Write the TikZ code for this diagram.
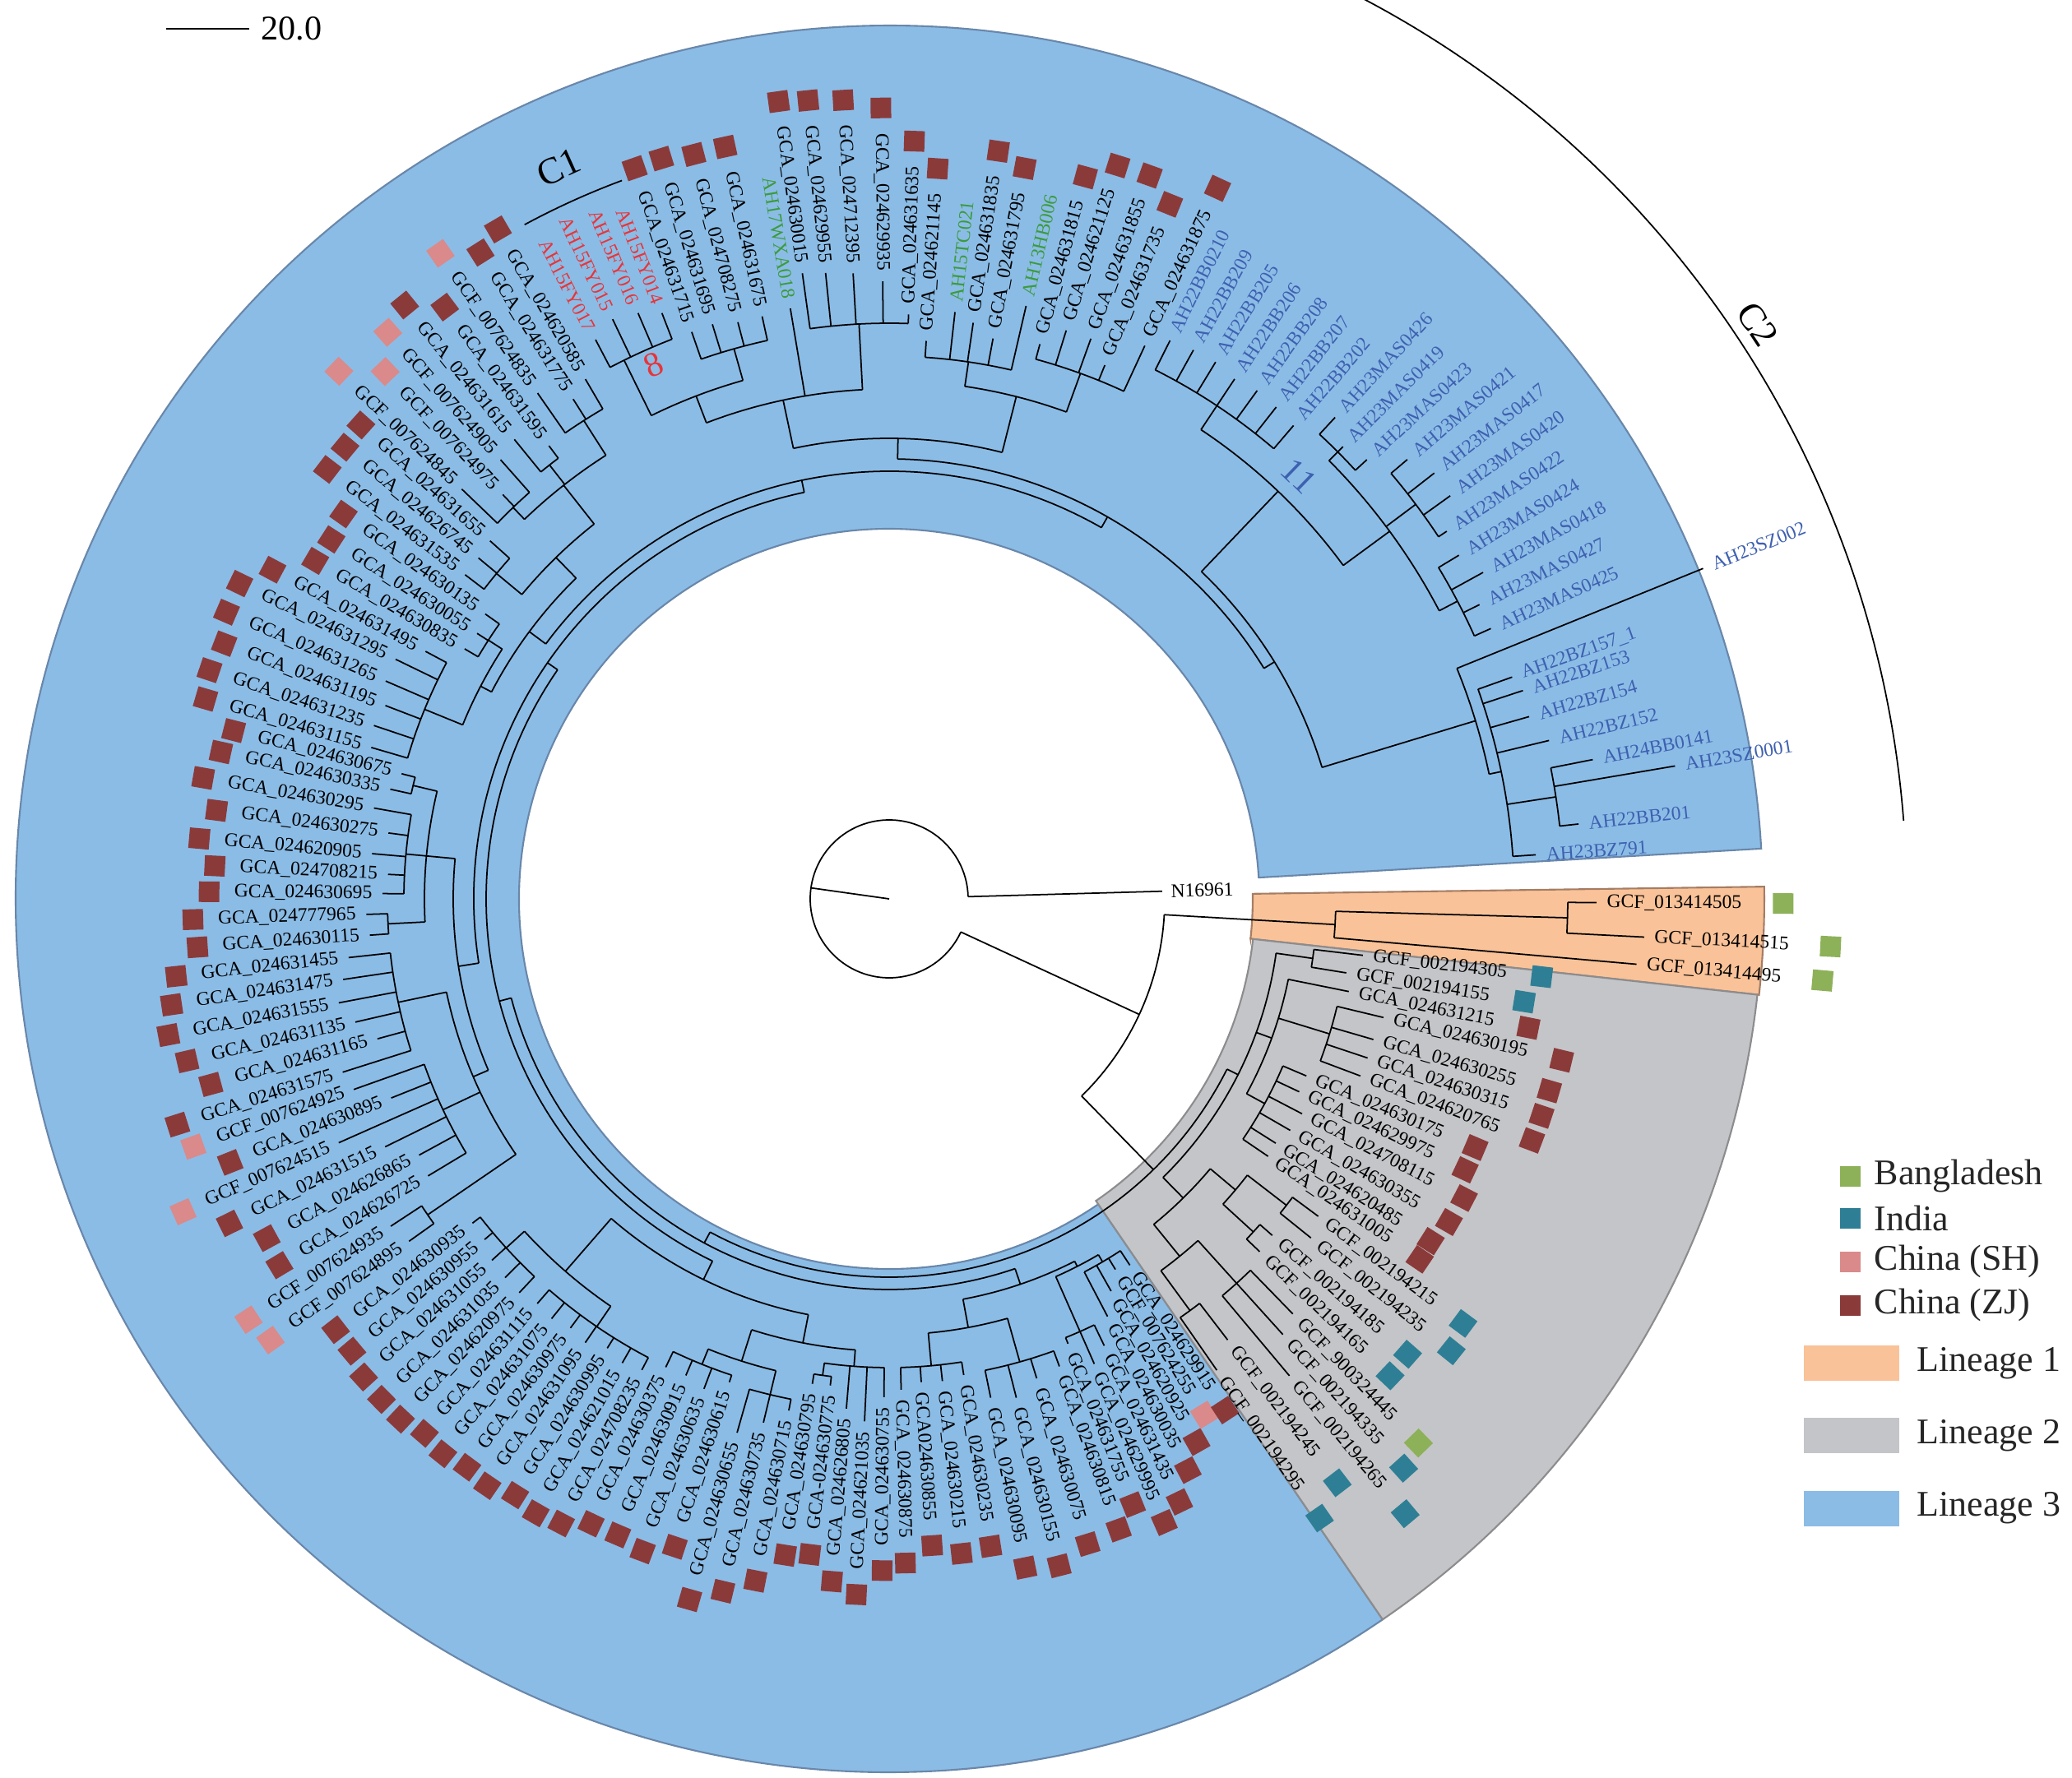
\documentclass[tikz,border=0pt]{standalone}
\usepackage{fontspec}
\setmainfont{Liberation Serif}
\usetikzlibrary{calc}

\definecolor{linone}{RGB}{249,194,152}
\definecolor{linoneb}{RGB}{165,125,100}
\definecolor{lintwo}{RGB}{196,197,200}
\definecolor{lintwob}{RGB}{140,140,142}
\definecolor{linthree}{RGB}{139,188,230}
\definecolor{linthreeb}{RGB}{105,135,170}
\definecolor{sqz}{RGB}{139,58,58}
\definecolor{sqs}{RGB}{218,138,138}
\definecolor{sqi}{RGB}{46,127,149}
\definecolor{sqb}{RGB}{141,177,88}
\definecolor{txk}{RGB}{0,0,0}
\definecolor{txr}{RGB}{232,52,56}
\definecolor{txg}{RGB}{60,155,60}
\definecolor{txb}{RGB}{62,96,176}

\begin{document}
\begin{tikzpicture}[
    br/.style={line width=0.5pt},
    lbl/.style={font=\fontsize{6.7}{8}\selectfont, inner sep=0pt},
    sq/.style={minimum size=0.25cm, inner sep=0pt},
    big/.style={font=\fontsize{13}{15}\selectfont, inner sep=0pt},
    legtxt/.style={font=\fontsize{12.5}{15}\selectfont, anchor=west, inner sep=0pt, text=black!85}
]
\useasboundingbox (-10.81,-10.68) rectangle (14.38,10.93);

% Lineage wedges
\draw[fill=linthree, draw=linthreeb, line width=0.6pt] (3.3:4.5) -- (3.3:10.62) arc[start angle=3.3, end angle=304.4, radius=10.62] -- (304.4:4.5) arc[start angle=304.4, end angle=3.3, radius=4.5] -- cycle;
\draw[fill=linone, draw=linoneb, line width=0.6pt] (-6.3:4.42) -- (-6.3:10.64) arc[start angle=-6.3, end angle=0.8, radius=10.64] -- (0.8:4.42) arc[start angle=0.8, end angle=-6.3, radius=4.42] -- cycle;
\draw[fill=lintwo, draw=lintwob, line width=0.6pt] (-55.6:4.45) -- (-55.6:10.62) arc[start angle=-55.6, end angle=-6.3, radius=10.62] -- (-6.3:4.45) arc[start angle=-6.3, end angle=-55.6, radius=4.45] -- cycle;

% Root
\coordinate (root) at (0,0);
\draw[br] (1.6:0.96) arc[start angle=1.6, end angle=335.2, radius=0.96];
\draw[br] (172:0.96) -- (root);
\draw[br] (1.6:0.96) -- (1.6:3.32);
\node[lbl, anchor=west, rotate=1.6] (nroot) at (1.6:3.42) {N16961};

% Internal nodes: arc from/to, radius, stem angle, parent radius
\foreach \ta/\tb/\tr/\tm/\tp in {
    6.2/11.2/8.2/8.7/7.6, 3.9/19.6/7.6/11.75/7.45, 11.75/22.1/7.45/16.9/5.5,
    24.2/31.1/7.8/27.65/7.55, 33.4/40.3/8.0/36.85/7.55, 42.6/47.2/7.7/44.9/7.55,
    27.65/44.9/7.55/36.3/6.85, 49.5/63.3/7.2/56.4/6.85, 36.3/56.4/6.85/46.35/5.5,
    16.9/46.35/5.5/31.6/5.35,
    65.2/74.8/6.8/70/6.3, 77/86.2/6.6/81.6/6.3, 70/81.6/6.3/75.8/5.6,
    88.1/97.9/7.0/93/6.2, 102.3/109.2/6.95/105.75/6.55, 111.2/117.7/7.3/116.2/6.55,
    105.75/116.2/6.55/111/6.2, 93/111/6.2/102/5.6, 75.8/102/5.6/88.9/5.35,
    31.6/88.9/5.35/60.25/5.2,
    120.3/124.8/6.9/122.55/6.4, 126.9/129.2/6.7/128.05/6.4, 131.5/136.2/6.6/133.85/6.4,
    122.55/133.85/6.4/128.2/5.8, 138.1/142.6/6.2/140.35/5.8, 128.2/140.35/5.8/134.3/5.45,
    144.8/149.5/5.8/147.15/5.6, 151.9/163.7/6.1/157.8/5.6, 147.15/157.8/5.6/152.5/5.45,
    134.3/152.5/5.45/143.4/5.2, 60.25/143.4/5.2/101.8/5.05,
    165.6/167.6/5.95/166.6/5.65, 170/179.4/5.9/174.7/5.65, 181.7/184/6.1/182.85/5.65,
    166.6/182.85/5.65/174.7/5.3, 186.2/197.6/6.1/191.9/5.5, 199.6/211/6.0/205.3/5.5,
    213.3/215.5/6.8/214.4/5.5, 191.9/214.4/5.5/203.15/5.3, 174.7/203.15/5.3/188.9/5.05,
    101.8/188.9/5.05/145.35/4.9,
    217.9/226.8/6.3/222.35/6.0, 229/242.3/6.3/235.65/6.0, 222.35/235.65/6.0/229/5.15,
    244.5/251.7/6.1/248.1/5.9, 254.1/258.9/6.2/256.5/5.9, 248.1/256.5/5.9/252.3/5.5,
    261/263.1/5.85/262.05/5.7, 262.05/269.4/5.7/265.7/5.5, 252.3/265.7/5.5/259/5.15,
    229/259/5.15/244/4.9, 145.35/244/4.9/194.7/4.75,
    271.4/278.9/5.7/275.15/5.3, 281.5/290/5.85/285.75/5.3, 275.15/285.75/5.3/280.45/4.95,
    291.9/295.7/5.75/293.8/5.02, 297.6/303.3/5.12/300.45/5.02, 293.8/300.45/5.02/297.1/4.95,
    280.45/297.1/4.95/288.8/4.75, 194.7/288.8/4.75/241.75/4.6,
    -6.8/-9.2/5.2/-8/4.75, -13.5/-20.6/5.6/-17.05/4.95, -23/-34.2/5.2/-28.6/4.95,
    -11.4/-28.6/4.95/-20/4.75, -36.5/-38.8/6.1/-37.65/5.5, -41.3/-43.6/6.0/-42.45/5.5,
    -37.65/-42.45/5.5/-40.05/5.1, -45.8/-50/6.3/-47.9/5.6, -52.5/-55.2/6.2/-53.85/5.6,
    -47.9/-53.85/5.6/-50.9/5.1, -40.05/-50.9/5.1/-45.5/4.75, -8/-45.5/4.75/-26.75/4.6,
    -26.75/-118.25/4.6/-45.7/3.35, -1.6/-5.0/5.43/-3.3/3.35, -0.3/-2.9/8.25/-1.6/5.43,
    -3.3/-45.7/3.35/-24.8/0.96}{
    \draw[br] (\ta:\tr) arc[start angle=\ta, end angle=\tb, radius=\tr];
    \draw[br] (\tm:\tp) -- (\tm:\tr);
}

% Leaves: angle, label radius, parent radius, name, text colour, country
\foreach \ang/\rlab/\rpar/\txt/\col/\sqt [count=\i] in {
    % lineage 3
    3.9/8.0/7.6/AH23BZ791/txb/n, 6.2/8.55/8.2/AH22BB201/txb/n, 9.6/9.81/8.2/AH23SZ0001/txb/n,
    11.2/8.84/8.2/AH24BB0141/txb/n, 13.5/8.37/7.6/AH22BZ152/txb/n, 15.9/8.21/7.6/AH22BZ154/txb/n,
    18.2/8.23/7.6/AH22BZ153/txb/n, 19.6/8.16/7.6/AH22BZ157\_1/txb/n, 22.1/10.8/7.45/AH23SZ002/txb/n,
    24.2/8.14/7.8/AH23MAS0425/txb/n, 26.5/8.14/7.8/AH23MAS0427/txb/n, 28.8/8.36/7.8/AH23MAS0418/txb/n,
    31.1/8.21/7.8/AH23MAS0424/txb/n, 33.4/8.24/8.0/AH23MAS0422/txb/n, 35.7/8.52/8.0/AH23MAS0420/txb/n,
    38.0/8.53/8.0/AH23MAS0417/txb/n, 40.3/8.38/8.0/AH23MAS0421/txb/n, 42.6/8.01/7.7/AH23MAS0423/txb/n,
    44.9/7.91/7.7/AH23MAS0419/txb/n, 47.2/8.1/7.7/AH23MAS0426/txb/n, 49.5/7.69/7.2/AH22BB202/txb/n,
    51.8/7.73/7.2/AH22BB207/txb/n, 54.1/7.75/7.2/AH22BB208/txb/n, 56.4/7.71/7.2/AH22BB206/txb/n,
    58.7/7.76/7.2/AH22BB205/txb/n, 61.0/7.75/7.2/AH22BB209/txb/n, 63.3/7.72/7.2/AH22BB0210/txb/n,
    65.2/7.53/6.8/GCA\_024631875/txk/z, 68.0/7.12/6.8/GCA\_024631735/txk/z, 70.2/7.36/6.8/GCA\_024631855/txk/z,
    72.7/7.36/6.8/GCA\_024621125/txk/z, 74.8/7.11/6.8/GCA\_024631815/txk/z, 77.0/7.52/6.6/AH13HB006/txg/n,
    79.5/7.05/6.6/GCA\_024631795/txk/z, 81.7/7.2/6.6/GCA\_024631835/txk/z, 83.6/7.3/6.6/AH15TC021/txg/n,
    86.2/6.92/6.6/GCA\_024621145/txk/z, 88.1/7.23/7.0/GCA\_024631635/txk/z, 90.6/7.63/7.0/GCA\_024629935/txk/z,
    93.3/7.74/7.0/GCA\_024712395/txk/z, 95.8/7.77/7.0/GCA\_024629955/txk/z, 97.9/7.8/7.0/GCA\_024630015/txk/z,
    99.5/7.4/6.2/AH17WXA018/txg/n, 102.3/7.37/6.95/GCA\_024631675/txk/z, 104.7/7.37/6.95/GCA\_024708275/txk/z,
    107.1/7.43/6.95/GCA\_024631695/txk/z, 109.2/7.42/6.95/GCA\_024631715/txk/z, 111.2/7.76/7.3/AH15FY014/txr/n,
    113.2/7.87/7.3/AH15FY016/txr/n, 115.5/7.93/7.3/AH15FY015/txr/n, 117.7/7.8/7.3/AH15FY017/txr/n,
    120.3/7.44/6.9/GCA\_024620585/txk/z, 122.3/7.31/6.9/GCA\_024631775/txk/z, 124.8/7.61/6.9/GCF\_007624835/txk/s,
    126.9/7.01/6.7/GCA\_024631595/txk/z, 129.2/7.33/6.7/GCA\_024631615/txk/z, 131.5/7.25/6.6/GCF\_007624905/txk/s,
    133.7/6.92/6.6/GCF\_007624975/txk/s, 136.2/7.32/6.6/GCF\_007624845/txk/s, 138.1/6.64/6.2/GCA\_024631655/txk/z,
    140.3/6.61/6.2/GCA\_024626745/txk/z, 142.6/6.61/6.2/GCA\_024631535/txk/z, 144.8/6.13/5.8/GCA\_024630135/txk/z,
    147.2/6.08/5.8/GCA\_024630055/txk/z, 149.5/6.11/5.8/GCA\_024630835/txk/z, 151.9/6.51/6.1/GCA\_024631495/txk/z,
    154.1/6.79/6.1/GCA\_024631295/txk/z, 156.6/6.79/6.1/GCA\_024631265/txk/z, 159.0/6.68/6.1/GCA\_024631195/txk/z,
    161.4/6.73/6.1/GCA\_024631235/txk/z, 163.7/6.68/6.1/GCA\_024631155/txk/z, 165.6/6.24/5.95/GCA\_024630675/txk/z,
    167.6/6.33/5.95/GCA\_024630335/txk/z, 170.0/6.48/5.9/GCA\_024630295/txk/z, 172.5/6.26/5.9/GCA\_024630275/txk/z,
    175.0/6.43/5.9/GCA\_024620905/txk/z, 177.2/6.22/5.9/GCA\_024708215/txk/z, 179.4/6.28/5.9/GCA\_024630695/txk/z,
    181.7/6.48/6.1/GCA\_024777965/txk/z, 184.0/6.45/6.1/GCA\_024630115/txk/z, 186.2/6.73/6.1/GCA\_024631455/txk/z,
    188.4/6.83/6.1/GCA\_024631475/txk/z, 190.7/6.93/6.1/GCA\_024631555/txk/z, 193.0/6.78/6.1/GCA\_024631135/txk/z,
    195.3/6.57/6.1/GCA\_024631165/txk/z, 197.6/7.09/6.1/GCA\_024631575/txk/z, 199.6/7.03/6.0/GCF\_007624925/txk/s,
    201.8/6.64/6.0/GCA\_024630895/txk/z, 203.9/7.44/6.0/GCF\_007624515/txk/s, 206.2/6.95/6.0/GCA\_024631515/txk/z,
    208.6/6.63/6.0/GCA\_024626865/txk/z, 211.0/6.66/6.0/GCA\_024626725/txk/z, 213.3/7.37/6.8/GCF\_007624935/txk/s,
    215.5/7.29/6.8/GCF\_007624895/txk/s, 217.9/6.54/6.3/GCA\_024630935/txk/z, 220.1/6.55/6.3/GCA\_024630955/txk/z,
    222.3/6.65/6.3/GCA\_024631055/txk/z, 224.6/6.68/6.3/GCA\_024631035/txk/z, 226.8/6.69/6.3/GCA\_024620975/txk/z,
    229.0/6.64/6.3/GCA\_024631115/txk/z, 231.2/6.67/6.3/GCA\_024631075/txk/z, 233.4/6.62/6.3/GCA\_024630975/txk/z,
    235.6/6.66/6.3/GCA\_024631095/txk/z, 237.9/6.57/6.3/GCA\_024630995/txk/z, 240.1/6.63/6.3/GCA\_024621015/txk/z,
    242.3/6.59/6.3/GCA\_024708235/txk/z, 244.5/6.43/6.1/GCA\_024630375/txk/z, 246.9/6.42/6.1/GCA\_024630915/txk/z,
    249.3/6.49/6.1/GCA\_024630635/txk/z, 251.7/6.31/6.1/GCA\_024630615/txk/z, 254.1/6.87/6.2/GCA\_024630655/txk/z,
    256.5/6.67/6.2/GCA\_024630735/txk/z, 258.9/6.46/6.2/GCA\_024630715/txk/z, 261.0/6.09/5.85/GCA\_024630795/txk/z,
    263.1/6.08/5.85/GCA-024630775/txk/z, 265.2/6.34/5.7/GCA\_024626805/txk/z, 267.3/6.48/5.7/GCA\_024621035/txk/z,
    269.4/6.18/5.7/GCA\_024630755/txk/z, 271.4/6.09/5.7/GCA\_024630875/txk/z, 273.8/6.01/5.7/GCA024630855/txk/z,
    276.3/6.02/5.7/GCA\_024630215/txk/z, 278.9/5.98/5.7/GCA\_024630235/txk/z, 281.5/6.31/5.85/GCA\_024630095/txk/z,
    284.3/6.38/5.85/GCA\_024630155/txk/z, 287.1/6.22/5.85/GCA\_024630075/txk/z, 290.0/6.17/5.85/GCA\_024630815/txk/z,
    291.9/5.95/5.75/GCA\_024631755/txk/z, 293.8/6.3/5.75/GCA\_024629995/txk/z, 295.7/6.15/5.75/GCA\_024631435/txk/z,
    297.6/5.85/5.12/GCA\_024630035/txk/z, 299.5/5.6/5.12/GCA\_024620925/txk/z, 301.4/5.4/5.12/GCF\_007624255/txk/s,
    303.3/5.45/5.12/GCA\_024629915/txk/z,
    % lineage 2
    -6.8/5.92/5.2/GCF\_002194305/txk/i, -9.2/5.75/5.2/GCF\_002194155/txk/i, -11.4/5.82/4.95/GCA\_024631215/txk/z,
    -13.5/6.3/5.6/GCA\_024630195/txk/z, -16.2/6.25/5.6/GCA\_024630255/txk/z, -18.4/6.25/5.6/GCA\_024630315/txk/z,
    -20.6/6.24/5.6/GCA\_024620765/txk/z, -23/5.63/5.2/GCA\_024630175/txk/z, -25.2/5.63/5.2/GCA\_024629975/txk/z,
    -27.5/5.78/5.2/GCA\_024708115/txk/z, -30/5.75/5.2/GCA\_024630355/txk/z, -32.3/5.68/5.2/GCA\_024620485/txk/z,
    -34.2/5.69/5.2/GCA\_024631005/txk/z, -36.5/6.61/6.1/GCF\_002194215/txk/i, -38.8/6.7/6.1/GCF\_002194235/txk/i,
    -41.3/6.32/6.0/GCF\_002194185/txk/i, -43.6/6.34/6.0/GCF\_002194165/txk/i, -45.8/7.16/6.3/GCF\_900324445/txk/b,
    -47.9/7.26/6.3/GCF\_002194335/txk/i, -50/7.69/6.3/GCF\_002194265/txk/i, -52.5/6.88/6.2/GCF\_002194245/txk/i,
    -55.2/7.1/6.2/GCF\_002194295/txk/i,
    % lineage 1
    -0.3/8.72/8.25/GCF\_013414505/txk/b, -2.9/9.31/8.25/GCF\_013414515/txk/b, -5.0/9.24/5.43/GCF\_013414495/txk/b}{
    \draw[br] (\ang:\rpar) -- (\ang:\rlab-0.12);
    \pgfmathtruncatemacro{\lft}{cos(\ang)<0}
    \pgfmathsetmacro{\sqgap}{\i>155 ? 0.5 : (\i>133 ? 0.42 : 0.3)}
    \ifnum\lft=1
        \node[lbl, text=\col, rotate=\ang+180, anchor=east] (l\i) at (\ang:\rlab) {\txt};
        \coordinate (e\i) at (l\i.west);
    \else
        \node[lbl, text=\col, rotate=\ang, anchor=west] (l\i) at (\ang:\rlab) {\txt};
        \coordinate (e\i) at (l\i.east);
    \fi
    \if\sqt n\else
        \node[sq, fill=sq\sqt, rotate=\ang] (s\i) at ($(e\i)+(\ang:\sqgap)$) {};
    \fi
}

% Clade marks
\draw[br] (110.4:9.32) arc[start angle=110.4, end angle=118.4, radius=9.32];
\node[big, rotate=24.3] (cone) at (114.3:9.76) {C1};
\node[font=\fontsize{12}{14}\selectfont, text=txr, rotate=23.8] (ceight) at (113.8:7.1) {8};
\node[font=\fontsize{12}{14}\selectfont, text=txb, rotate=-44] (celeven) at (45.9:7.16) {11};
\draw[br] (4.4:12.37) arc[start angle=4.4, end angle=66, radius=12.37];
\node[big, rotate=-56.5] (ctwo) at (33.5:12.66) {C2};

% Scale bar
\draw[br] (-8.79,10.58) -- (-7.78,10.58);
\node[font=\fontsize{12}{14}\selectfont, anchor=west, inner sep=0pt] (sbar) at (-7.64,10.58) {20.0};

% Legend
\node[sq, fill=sqb] (kb) at (11.68,-3.37) {};
\node[legtxt] (kbt) at (11.97,-3.37) {Bangladesh};
\node[sq, fill=sqi] (ki) at (11.68,-3.88) {};
\node[legtxt] (kit) at (11.97,-3.88) {India};
\node[sq, fill=sqs] (ks) at (11.68,-4.41) {};
\node[legtxt] (kst) at (11.97,-4.41) {China (SH)};
\node[sq, fill=sqz] (kz) at (11.68,-4.94) {};
\node[legtxt] (kzt) at (11.97,-4.94) {China (ZJ)};
\node[fill=linone, minimum width=1.16cm, minimum height=0.43cm, inner sep=0pt] (kone) at (11.7,-5.645) {};
\node[legtxt] (konet) at (12.49,-5.645) {Lineage 1};
\node[fill=lintwo, minimum width=1.16cm, minimum height=0.43cm, inner sep=0pt] (ktwo) at (11.7,-6.525) {};
\node[legtxt] (ktwot) at (12.49,-6.525) {Lineage 2};
\node[fill=linthree, minimum width=1.16cm, minimum height=0.43cm, inner sep=0pt] (kthree) at (11.7,-7.41) {};
\node[legtxt] (kthreet) at (12.49,-7.41) {Lineage 3};
\end{tikzpicture}
\end{document}
